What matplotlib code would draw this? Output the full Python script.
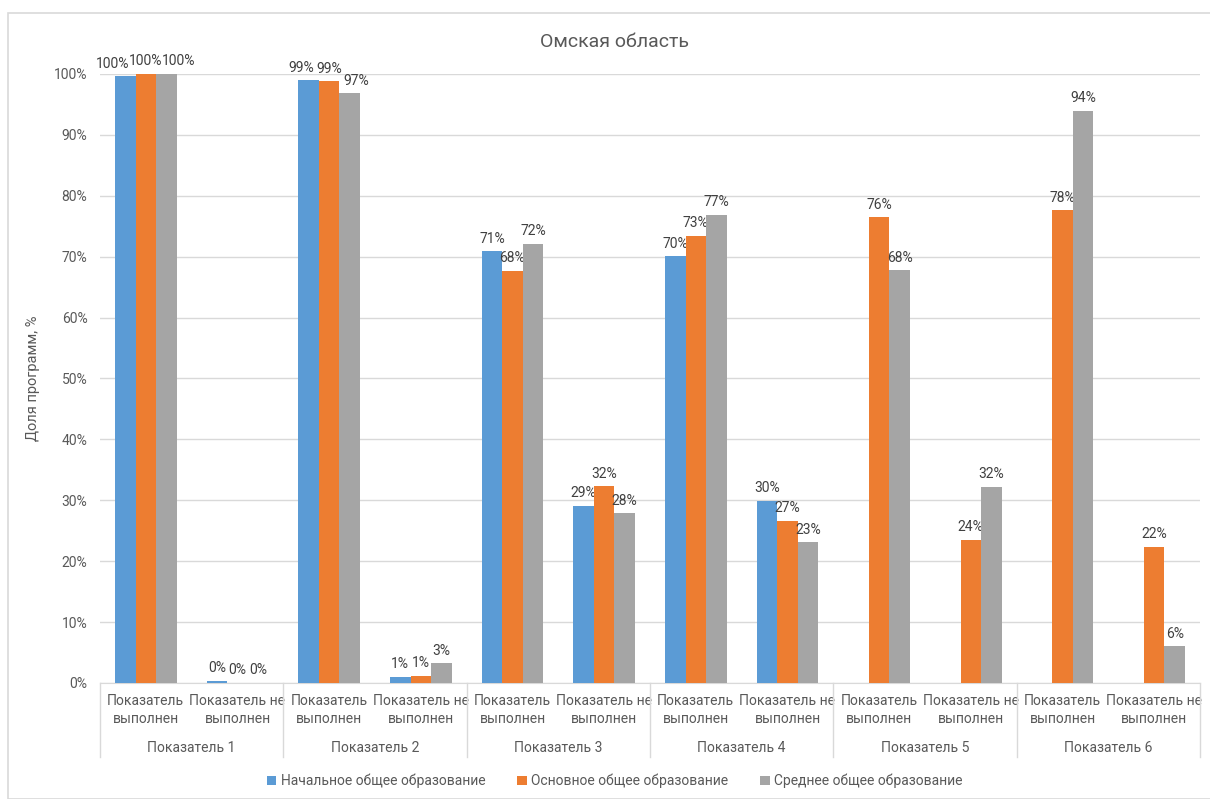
import matplotlib.pyplot as plt
import numpy as np
from matplotlib.patches import Rectangle

plt.rcParams['font.family'] = ['Roboto', 'DejaVu Sans']

# categories
groups = ["Показатель 1", "Показатель 2", "Показатель 3",
          "Показатель 4", "Показатель 5", "Показатель 6"]
sub_labels = ["Показатель\nвыполнен", "Показатель не\nвыполнен"]
series_names = ["Начальное общее образование",
                "Основное общее образование",
                "Среднее общее образование"]

# values, % (NaN = no bar)
nach = [99.6, 0.4, 99.0, 1.0, 70.9, 29.1, 70.1, 29.9, np.nan, np.nan, np.nan, np.nan]
osn = [100.0, 0.0, 98.8, 1.2, 67.7, 32.3, 73.4, 26.6, 76.5, 23.5, 77.6, 22.4]
sred = [100.0, 0.0, 96.8, 3.2, 72.1, 27.9, 76.9, 23.1, 67.8, 32.2, 94.0, 6.0]
colors = ["#5B9BD5", "#ED7D31", "#A5A5A5"]

fig = plt.figure(figsize=(12.1, 7.99), dpi=100)
ax = fig.add_axes([0.0826, 0.1452, 0.9091, 0.7622])

# outer chart border
fig.patches.append(Rectangle((8 / 1210, 0), 1 - 8 / 1210 + 0.01, 1 - 13 / 799,
                             transform=fig.transFigure, fill=False,
                             edgecolor="#D9D9D9", linewidth=1.2))

all_vals = np.array([nach, osn, sred])
x = np.arange(len(nach))
w = 0.224
for i, (vals, name, c) in enumerate(zip([nach, osn, sred], series_names, colors)):
    pos = x + (i - 1) * w
    ax.bar(pos, vals, width=w, color=c, label=name, zorder=3)
    for j, (p, v) in enumerate(zip(pos, vals)):
        if np.isnan(v):
            continue
        # spread labels apart where the three bars are almost equal and tall
        col = all_vals[:, j]
        dx = 0
        if np.nanmin(col) > 99.5:
            dx = (i - 1) * 9
        elif np.nanmin(col) > 90:
            dx = (i - 1) * 5
        ax.annotate(f"{v:.0f}%", (p, v), xytext=(dx, 4), textcoords="offset points",
                    ha="center", va="bottom", fontsize=10, color="#404040")

ax.set_xlim(-0.5, len(nach) - 0.5)
ax.set_ylim(0, 100)
ax.set_yticks(np.arange(0, 101, 10))
ax.set_yticklabels([f"{t}%" for t in range(0, 101, 10)])
ax.grid(axis="y", color="#D9D9D9", linewidth=1, zorder=0)
for s in ["top", "right", "left"]:
    ax.spines[s].set_visible(False)
ax.spines["bottom"].set_color("#D9D9D9")
ax.tick_params(axis="y", length=0, labelsize=10, labelcolor="#595959", pad=9)
ax.tick_params(axis="x", length=0, labelsize=10, labelcolor="#595959", pad=8)
ax.set_xticks(x)
ax.set_xticklabels(sub_labels * len(groups), linespacing=1.4)

ax.set_ylabel("Доля программ, %", fontsize=10.5, color="#595959", labelpad=10)
fig.text(614 / 1210, 1 - 42 / 799, "Омская область", fontsize=14, color="#595959",
         ha="center", va="center")

# group separators and group labels
trans = ax.get_xaxis_transform()
for k in range(len(groups) + 1):
    xs = 2 * k - 0.5
    ax.plot([xs, xs], [0, -0.122], transform=trans, color="#D9D9D9",
            linewidth=1, clip_on=False)
for k, g in enumerate(groups):
    ax.text(2 * k + 0.5, -0.107, g, transform=trans, ha="center", va="center",
            fontsize=10, color="#595959")

ax.legend(loc="center", bbox_to_anchor=(0.508, 0.0225), bbox_transform=fig.transFigure,
          ncol=3, frameon=False, fontsize=10, handlelength=0.7, handleheight=0.7,
          columnspacing=2.3, handletextpad=0.3, labelcolor="#595959")

fig.savefig("out.png", dpi=100)
